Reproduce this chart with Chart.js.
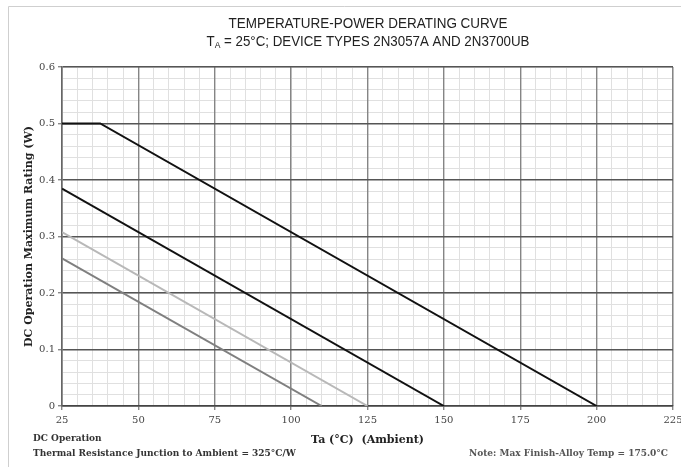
<!DOCTYPE html>
<html>
<head>
<meta charset="utf-8">
<script src="https://cdn.jsdelivr.net/npm/chart.js@4.4.1/dist/chart.umd.min.js"></script>
<style>
  html, body { margin: 0; padding: 0; background: #fff; }
  #wrap { width: 681px; height: 467px; position: relative; }
</style>
</head>
<body>
<div id="wrap"><canvas id="c" width="681" height="467"></canvas></div>
<script>
// Ambient temperature (°C) and maximum DC power rating (W) for each derating line
const tempsA = [25, 37.5, 200];
const powerA = [0.5, 0.5, 0];
const tempsB = [25, 150];
const powerB = [0.3846, 0];
const tempsC = [25, 125];
const powerC = [0.3077, 0];
const tempsD = [25, 110];
const powerD = [0.2615, 0];

const xTickLabels = ['25', '50', '75', '100', '125', '150', '175', '200', '225'];
const yTickLabels = ['0', '0.1', '0.2', '0.3', '0.4', '0.5', '0.6'];

const titleLine1 = 'TEMPERATURE-POWER DERATING CURVE';
const titleLine2Pre = 'T';
const titleLine2Sub = 'A';
const titleLine2Post = ' = 25°C; DEVICE TYPES 2N3057A AND 2N3700UB';
const noteLeft1 = 'DC Operation';
const noteLeft2 = 'Thermal Resistance Junction to Ambient = 325°C/W';
const noteRight = 'Note: Max Finish-Alloy Temp = 175.0°C';

const toPoints = (xs, ys) => xs.map((x, i) => ({ x: x, y: ys[i] }));

const serif = 'DejaVu Serif';

// Page decorations: frame, two-line heading and footnotes
const decorations = {
  id: 'decorations',
  afterDraw(chart) {
    const ctx = chart.ctx;
    ctx.save();
    // light frame around the figure
    ctx.strokeStyle = '#cfcfcf';
    ctx.lineWidth = 1;
    ctx.beginPath();
    ctx.moveTo(8.5, 467);
    ctx.lineTo(8.5, 6.5);
    ctx.lineTo(681, 6.5);
    ctx.stroke();

    // heading, slightly condensed sans
    const cx = 368;
    ctx.fillStyle = '#222';
    ctx.textBaseline = 'alphabetic';
    ctx.font = '14px "Liberation Sans"';
    let w = ctx.measureText(titleLine1).width;
    let sx = 279 / w;
    ctx.save();
    ctx.translate(cx, 28);
    ctx.scale(sx, 1);
    ctx.textAlign = 'center';
    ctx.fillText(titleLine1, 0, 0);
    ctx.restore();

    ctx.font = '14px "Liberation Sans"';
    const wPre = ctx.measureText(titleLine2Pre).width;
    const wPost = ctx.measureText(titleLine2Post).width;
    ctx.font = '9px "Liberation Sans"';
    const wSub = ctx.measureText(titleLine2Sub).width;
    const total = wPre + wSub + wPost;
    sx = 323 / total;
    ctx.save();
    ctx.translate(cx - 323 / 2, 46);
    ctx.scale(sx, 1);
    ctx.textAlign = 'left';
    ctx.font = '14px "Liberation Sans"';
    ctx.fillText(titleLine2Pre, 0, 0);
    ctx.font = '9px "Liberation Sans"';
    ctx.fillText(titleLine2Sub, wPre, 2);
    ctx.font = '14px "Liberation Sans"';
    ctx.fillText(titleLine2Post, wPre + wSub, 0);
    ctx.restore();

    // footnotes
    ctx.fillStyle = '#333';
    ctx.textAlign = 'left';
    ctx.font = 'bold 9px "' + serif + '"';
    ctx.fillText(noteLeft1, 33, 441);
    ctx.fillText(noteLeft2, 33, 456);
    ctx.fillStyle = '#555';
    ctx.textAlign = 'right';
    ctx.fillText(noteRight, 668, 456);
    ctx.restore();
  }
};

const lineStyle = (color) => ({
  borderColor: color,
  backgroundColor: color,
  borderWidth: 2,
  pointRadius: 0,
  showLine: true,
  fill: false,
  tension: 0
});

// grid-only scales for the fine subdivisions, drawn beneath the main grid
const minorScale = (axis, position, min, max, step) => ({
  type: 'linear',
  axis: axis,
  position: position,
  min: min,
  max: max,
  z: -1,
  afterFit(scale) {
    if (axis === 'x') scale.height = 0; else scale.width = 0;
    scale.paddingLeft = scale.paddingRight = scale.paddingTop = scale.paddingBottom = 0;
  },
  ticks: { display: false, stepSize: step, autoSkip: false },
  grid: { color: '#e0e0e0', lineWidth: 1, drawTicks: false, tickLength: 0 },
  border: { display: false }
});

new Chart(document.getElementById('c'), {
  type: 'scatter',
  data: {
    datasets: [
      Object.assign({ data: toPoints(tempsD, powerD) }, lineStyle('#7f7f7f')),
      Object.assign({ data: toPoints(tempsC, powerC) }, lineStyle('#b8b8b8')),
      Object.assign({ data: toPoints(tempsB, powerB) }, lineStyle('#111')),
      Object.assign({ data: toPoints(tempsA, powerA) }, lineStyle('#111'))
    ]
  },
  options: {
    responsive: false,
    animation: false,
    events: [],
    layout: { padding: { top: 67, right: 8, bottom: 0, left: 0 } },
    plugins: {
      legend: { display: false },
      tooltip: { enabled: false },
      title: { display: false }
    },
    scales: {
      xMinor: minorScale('x', 'bottom', 25, 225, 5),
      yMinor: minorScale('y', 'left', 0, 0.6, 0.02),
      x: {
        type: 'linear',
        min: 25,
        max: 225,
        afterFit(scale) {
          scale.height = 61;
          scale.paddingLeft = 0;
          scale.paddingRight = 0;
        },
        ticks: {
          stepSize: 25,
          autoSkip: false,
          maxRotation: 0,
          padding: 4,
          color: '#444',
          font: { family: serif, size: 10 },
          callback: v => xTickLabels[Math.round((v - 25) / 25)]
        },
        grid: {
          color: '#858585',
          lineWidth: 1.4,
          tickColor: '#888',
          tickLength: 4
        },
        border: { color: '#444', width: 1.5 },
        title: {
          display: true,
          text: 'Ta (°C)  (Ambient)',
          color: '#222',
          font: { family: serif, size: 11, weight: 'bold' },
          padding: { top: 0, bottom: 20 }
        }
      },
      y: {
        type: 'linear',
        min: 0,
        max: 0.6,
        afterFit(scale) {
          scale.width = 62;
          scale.paddingTop = 0;
          scale.paddingBottom = 0;
        },
        ticks: {
          stepSize: 0.1,
          autoSkip: false,
          padding: 3,
          color: '#444',
          font: { family: serif, size: 10 },
          callback: v => yTickLabels[Math.round(v * 10)]
        },
        grid: {
          color: '#555',
          lineWidth: 1.4,
          tickColor: '#888',
          tickLength: 4
        },
        border: { color: '#666', width: 1.5 },
        title: {
          display: true,
          text: 'DC Operation Maximum Rating (W)',
          color: '#222',
          font: { family: serif, size: 11, weight: 'bold' },
          padding: { top: 23, bottom: 0 }
        }
      }
    }
  },
  plugins: [decorations]
});
</script>
</body>
</html>
